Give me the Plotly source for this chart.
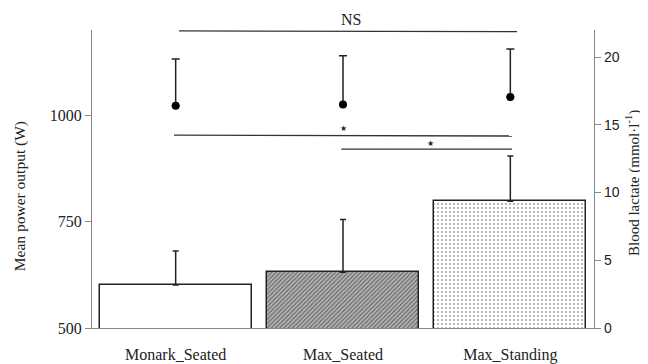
import plotly.graph_objects as go

categories = ["Monark_Seated", "Max_Seated", "Max_Standing"]
power_mean = [601, 631, 798]
power_sd = [80, 124, 106]
lactate_mean = [16.4, 16.5, 17.05]
lactate_sd = [3.45, 3.6, 3.55]

x = [0, 1, 2]
SERIF = "Liberation Serif"
SANS = "Liberation Sans"

fig = go.Figure()

fig.add_trace(go.Bar(
    x=x, y=power_mean, width=0.91,
    marker=dict(
        color=["white", "#6a6a6a", "white"],
        line=dict(color="#222", width=1.5),
        pattern=dict(
            shape=["", "/", "."],
            fgcolor=["#222", "#111", "#888"],
            bgcolor=["white", "#7a7a7a", "white"],
            size=[4, 3, 4],
            solidity=[0.3, 0.6, 0.2],
        ),
    ),
    error_y=dict(type="data", symmetric=False, array=power_sd,
                 arrayminus=[0, 0, 0], color="#222", thickness=1.5, width=3),
    showlegend=False,
))

fig.add_trace(go.Scatter(
    x=x, y=lactate_mean, yaxis="y2", mode="markers",
    marker=dict(color="black", size=8),
    error_y=dict(type="data", symmetric=False, array=lactate_sd,
                 arrayminus=[0, 0, 0], color="#222", thickness=1.5, width=4),
    showlegend=False,
))

# significance lines
fig.add_shape(type="line", xref="x", yref="y", x0=0.02, x1=2.04, y0=1198, y1=1196,
              line=dict(color="#333", width=1.3))
fig.add_shape(type="line", xref="x", yref="y", x0=-0.01, x1=2.01, y0=953, y1=951,
              line=dict(color="#333", width=1.3))
fig.add_shape(type="line", xref="x", yref="y", x0=0.99, x1=2.01, y0=920, y1=920,
              line=dict(color="#333", width=1.3))

fig.add_annotation(x=1.05, y=1.034, xref="x", yref="paper", text="NS", showarrow=False,
                   xanchor="center", yanchor="middle",
                   font=dict(family=SERIF, size=16, color="#222"))
fig.add_annotation(x=1.0, y=969, xref="x", yref="y", text="★", showarrow=False,
                   xanchor="center", yanchor="middle",
                   font=dict(family="DejaVu Sans", size=8, color="#222"))
fig.add_annotation(x=1.52, y=934, xref="x", yref="y", text="★", showarrow=False,
                   xanchor="center", yanchor="middle",
                   font=dict(family="DejaVu Sans", size=8, color="#222"))

fig.add_annotation(x=-0.143, y=0.443, xref="paper", yref="paper",
                   xanchor="center", yanchor="middle",
                   text="Mean power output (W)", textangle=-90, showarrow=False,
                   font=dict(family=SERIF, size=15.5, color="#222"))
fig.add_annotation(x=1.078, y=0.487, xref="paper", yref="paper",
                   xanchor="center", yanchor="middle",
                   text="Blood lactate (mmol·l<sup>-1</sup>)", textangle=-90, showarrow=False,
                   font=dict(family=SERIF, size=15, color="#222"))

fig.update_layout(
    width=640, height=356,
    margin=dict(l=84, r=54, t=22, b=36, autoexpand=False),
    plot_bgcolor="white", paper_bgcolor="white",
    bargap=0,
    xaxis=dict(
        range=[-0.5, 2.5], tickvals=x, ticktext=categories,
        showline=True, linecolor="#888", linewidth=1.2,
        ticks="outside", ticklen=12, tickcolor="rgba(0,0,0,0)",
        showgrid=False, zeroline=False, automargin=False,
        tickfont=dict(family=SERIF, size=16, color="#222"),
    ),
    yaxis=dict(
        range=[500, 1200], tickvals=[500, 750, 1000],
        showline=True, linecolor="#888", linewidth=1.2,
        ticks="outside", ticklen=6, tickcolor="#888",
        showgrid=False, zeroline=False, automargin=False,
        tickfont=dict(family=SERIF, size=16, color="#222"),
    ),
    yaxis2=dict(
        range=[0, 22], tickvals=[0, 5, 10, 15, 20],
        overlaying="y", side="right", anchor="x",
        showline=True, linecolor="#888", linewidth=1.2,
        ticks="outside", ticklen=6, tickcolor="#888",
        showgrid=False, zeroline=False, automargin=False,
        tickfont=dict(family=SANS, size=14, color="#222"),
    ),
)

fig.write_html("out.html")
